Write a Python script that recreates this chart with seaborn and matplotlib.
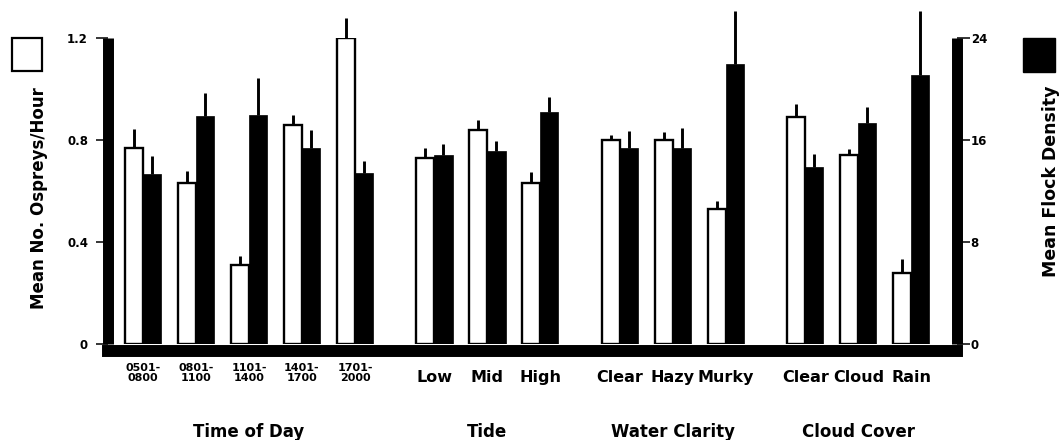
import numpy as np
import pandas as pd
import matplotlib
matplotlib.use("Agg")
import matplotlib.pyplot as plt
from matplotlib.patches import Rectangle
import seaborn as sns

# ------------------------------------------------------------
# Data
# ------------------------------------------------------------
groups = ["Time of Day", "Tide", "Water Clarity", "Cloud Cover"]
time_cats = ["0501-\n0800", "0801-\n1100", "1101-\n1400", "1401-\n1700", "1701-\n2000"]
tide_cats = ["Low", "Mid", "High"]
clarity_cats = ["Clear", "Hazy", "Murky"]
cloud_cats = ["Clear", "Cloud", "Rain"]
group_cats = [time_cats, tide_cats, clarity_cats, cloud_cats]

osprey_mean = [0.77, 0.63, 0.31, 0.86, 1.20, 0.73, 0.84, 0.63, 0.80, 0.80, 0.53, 0.89, 0.74, 0.28]
osprey_se = [0.075, 0.05, 0.036, 0.038, 0.08, 0.038, 0.038, 0.043, 0.02, 0.033, 0.029, 0.05, 0.026, 0.054]
flock_mean = [13.3, 17.9, 18.0, 15.4, 13.4, 14.8, 15.1, 18.2, 15.4, 15.4, 22.0, 13.9, 17.3, 21.1]
flock_se = [1.45, 1.8, 2.9, 1.35, 0.95, 0.9, 0.85, 1.2, 1.3, 1.55, 4.1, 1.0, 1.3, 5.0]

left_ticks = [0, 0.4, 0.8, 1.2]
left_ticklabels = ["0", "0.4", "0.8", "1.2"]
right_ticks = [0, 8, 16, 24]

# ------------------------------------------------------------
# Layout helpers
# ------------------------------------------------------------
GROUP_GAP = 0.5     # extra slot between groups
BAR_W = 0.34        # width of one bar (slot = 1)

rows = []
slot = 0
for gi, cats in enumerate(group_cats):
    for cat in cats:
        rows.append({"group": groups[gi], "category": cat, "pos": slot + GROUP_GAP * gi})
        slot += 1
df = pd.DataFrame(rows)
df["osprey"] = osprey_mean
df["osprey_se"] = osprey_se
df["flock"] = flock_mean
df["flock_se"] = flock_se
df["x_white"] = df["pos"] - BAR_W / 2
df["x_black"] = df["pos"] + BAR_W / 2

sns.set_style("white")
plt.rcParams["font.family"] = ["DejaVu Sans"]
plt.rcParams["font.weight"] = "bold"
for key in ("text.color", "axes.labelcolor", "xtick.color", "ytick.color", "axes.edgecolor"):
    plt.rcParams[key] = "black"

fig = plt.figure(figsize=(10.61, 4.40), dpi=100)
W, H = 1061, 440
ax = fig.add_axes([107.5 / W, 96 / H, 849 / W, 306 / H])
ax2 = ax.twinx()

# white bars: ospreys per hour (left axis)
sns.barplot(x=df["x_white"], y=df["osprey"], native_scale=True, width=BAR_W,
            color="white", edgecolor="black", linewidth=1.7, saturation=1,
            errorbar=None, ax=ax)
ax.errorbar(df["x_white"], df["osprey"], yerr=[np.zeros(len(df)), df["osprey_se"]],
            fmt="none", ecolor="black", elinewidth=2.1, capsize=0, clip_on=False)

# black bars: flock density (right axis)
sns.barplot(x=df["x_black"], y=df["flock"], native_scale=True, width=BAR_W,
            color="black", edgecolor="black", linewidth=0.5, saturation=1,
            errorbar=None, ax=ax2)
ax2.errorbar(df["x_black"], df["flock"], yerr=[np.zeros(len(df)), df["flock_se"]],
             fmt="none", ecolor="black", elinewidth=2.1, capsize=0, clip_on=False)

ax.set_xlim(-0.67, 15.35)
ax.set_ylim(0, 1.2)
ax2.set_ylim(0, 24)

# spines: heavy black frame on left, right and bottom
for a in (ax, ax2):
    for s in a.spines.values():
        s.set_visible(False)
for s, lw in ((ax.spines["left"], 7.9), (ax2.spines["right"], 7.9), (ax.spines["bottom"], 8.6)):
    s.set_visible(True)
    s.set_linewidth(lw)
    s.set_color("black")
    s.set_capstyle("butt")
ax.spines["bottom"].set_position(("outward", 5.0))
ax.spines["bottom"].set_capstyle("projecting")

ax.set_yticks(left_ticks, left_ticklabels)
ax.tick_params(axis="y", left=True, direction="out", length=9, width=1.1,
               pad=5, labelsize=8.5, colors="black")
ax2.set_yticks(right_ticks, [str(t) for t in right_ticks])
ax2.tick_params(axis="y", right=True, direction="out", length=9.7, width=1.1,
                pad=0.5, labelsize=8.5, colors="black")
ax.set_xticks([])
ax.set_xlabel("")
ax2.set_xlabel("")

ax.set_ylabel("Mean No. Ospreys/Hour", fontsize=12, fontweight="bold", color="black")
ax.yaxis.set_label_coords((48 - 107.5) / 849, (344 - 198) / 306)
ax2.set_ylabel("Mean Flock Density", fontsize=12.5, fontweight="bold", color="black")
ax2.yaxis.set_label_coords((1042 - 107.5) / 849, (344 - 181) / 306)

# category labels under each pair, group names below
for _, r in df.iterrows():
    is_time = r["group"] == groups[0]
    ax.annotate(r["category"], xy=(r["pos"], 0), xycoords=("data", "axes fraction"),
                xytext=(0, -13.7 if is_time else -18.7), textcoords="offset points",
                ha="center", va="top", fontsize=8 if is_time else 11.5,
                fontweight="bold", linespacing=0.95, color="black")
for g, sub in df.groupby("group", sort=False):
    mid = (sub["pos"].min() + sub["pos"].max()) / 2
    ax.annotate(g, xy=(mid, 0), xycoords=("data", "axes fraction"),
                xytext=(0, -57), textcoords="offset points",
                ha="center", va="top", fontsize=12, fontweight="bold", color="black")

# legend squares beside the axis titles
fig.add_artist(Rectangle((12 / W, (H - 71) / H), 30 / W, 33 / H, transform=fig.transFigure,
                         facecolor="white", edgecolor="black", linewidth=1.6))
fig.add_artist(Rectangle((1023 / W, (H - 72) / H), 32 / W, 34 / H, transform=fig.transFigure,
                         facecolor="black", edgecolor="black", linewidth=1.0))

fig.savefig("out.png", dpi=100)
plt.close(fig)
